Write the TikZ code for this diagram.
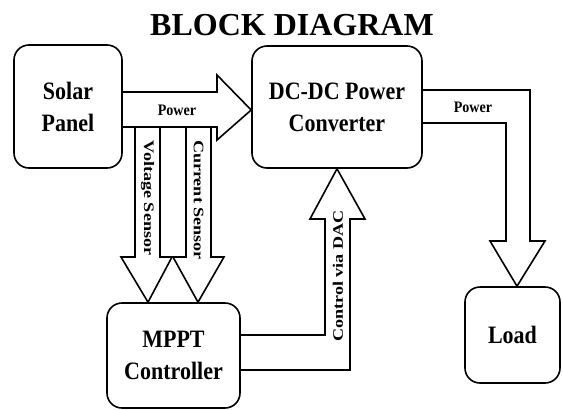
\documentclass[tikz,border=0pt]{standalone}
\usepackage{fontspec}
\setmainfont{Liberation Serif}
\newfontfamily\narrowfont[FakeStretch=0.88, BoldFont={Liberation Serif Bold}]{Liberation Serif}
\newfontfamily\tallfont[FakeStretch=1.25, BoldFont={Liberation Serif Bold}]{Liberation Serif}
\usetikzlibrary{calc}
\tikzset{
  blockbox/.style={draw, line width=1.6pt, rounded corners=15pt, align=center,
    font={\narrowfont\bfseries\fontsize{25}{32}\selectfont}},
  blk/.style={draw, line width=1.6pt, line join=miter},
  flowlbl/.style={font={\narrowfont\bfseries\fontsize{16}{18}\selectfont}, inner sep=0pt},
  vlbl/.style={font={\tallfont\bfseries\fontsize{14.5}{16}\selectfont}, inner sep=0pt},
}
\begin{document}
\begin{tikzpicture}[x=1pt,y=-1pt]
\useasboundingbox (0,0) rectangle (563,410);
\node[font={\bfseries\fontsize{32}{36}\selectfont}, inner sep=0pt] (title) at (292,25) {BLOCK DIAGRAM};
\node[blockbox, minimum width=108pt, minimum height=123pt] (solar) at (68,106.5) {Solar\\Panel};
\node[blockbox, minimum width=170pt, minimum height=122pt] (dcdc) at (337,107) {DC-DC Power\\Converter};
\node[blockbox, minimum width=133pt, minimum height=105pt] (mppt) at (173.5,355.5) {MPPT\\Controller};
\node[blockbox, minimum width=95pt, minimum height=96pt] (load) at (512.5,335) {Load};
% power arrow solar -> dcdc
\draw[blk] (solar.east |- 0,92) -- (217,92) -- (217,75) -- (dcdc.west |- 0,110) -- (217,140) -- (217,127) -- (solar.east |- 0,127);
% voltage sensor arrow
\draw[blk] (135,127) -- (135,257) -- (121,257) -- (mppt.north -| 148,0) -- (172,257) -- (160,257) -- (160,127);
% current sensor arrow
\draw[blk] (186,127) -- (186,257) -- (173,257) -- (mppt.north -| 198,0) -- (224,257) -- (211,257) -- (211,127);
% control arrow mppt -> dcdc
\draw[blk] (mppt.east |- 0,335) -- (325,335) -- (325,219) -- (310,219) -- (dcdc.south) -- (365,219) -- (350,219) -- (350,370) -- (mppt.east |- 0,370);
% output power arrow dcdc -> load
\draw[blk] (dcdc.east |- 0,90) -- (530,90) -- (530,241) -- (545,241) -- (load.north -| 517,0) -- (490,241) -- (506,241) -- (506,123) -- (dcdc.east |- 0,123);
% labels
\node[flowlbl] (pw1) at (177,110) {Power};
\node[flowlbl] (pw2) at (473,107) {Power};
\node[vlbl, rotate=-90] (vs) at (147.5,198) {Voltage Sensor};
\node[vlbl, rotate=-90] (cs) at (198.5,200) {Current Sensor};
\node[vlbl, rotate=90] (ctl) at (338,276) {Control via DAC};
\end{tikzpicture}
\end{document}
